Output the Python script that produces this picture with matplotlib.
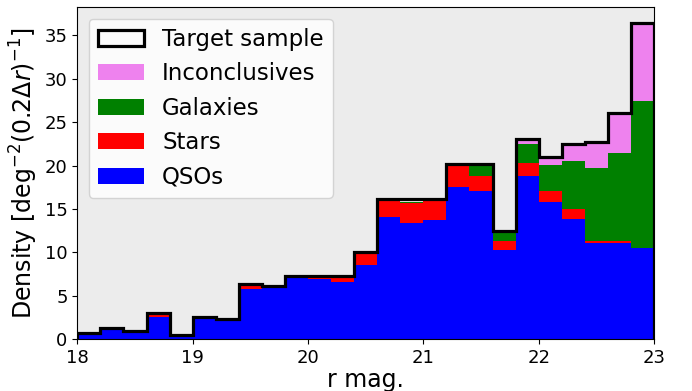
import numpy as np
import matplotlib
matplotlib.use("Agg")
import matplotlib.pyplot as plt

edges = np.round(np.arange(18.0, 23.0001, 0.2), 2)

qso = [0.65, 1.3, 0.95, 2.6, 0.42, 2.6, 2.3, 5.8, 5.95, 7.1, 6.9, 6.65, 8.55,
       14.1, 13.35, 13.7, 17.5, 17.1, 10.3, 18.8, 15.8, 13.9, 11.1, 11.1, 10.5]
stars = [0.05, 0.0, 0.0, 0.45, 0.0, 0.0, 0.0, 0.55, 0.1, 0.15, 0.35, 0.6, 1.45,
         1.95, 2.3, 2.2, 2.45, 1.7, 1.0, 1.45, 1.3, 1.05, 0.2, 0.2, 0.05]
galaxies = [0, 0, 0, 0, 0, 0, 0, 0, 0, 0, 0, 0, 0,
            0, 0.2, 0, 0, 1.2, 1.0, 2.2, 3.0, 5.55, 8.4, 10.1, 16.85]
inconclusives = [0, 0, 0, 0, 0, 0, 0, 0, 0, 0, 0, 0, 0,
                 0, 0, 0, 0, 0, 0, 0.45, 0.65, 1.7, 2.75, 4.5, 8.85]
total = [0.7, 1.35, 0.95, 3.05, 0.45, 2.6, 2.35, 6.4, 6.1, 7.3, 7.3, 7.3, 10.1,
         16.1, 16.1, 16.1, 20.15, 20.15, 12.45, 23.05, 21.0, 22.5, 22.7, 26.1, 36.4]

labels = ["QSOs", "Stars", "Galaxies", "Inconclusives"]
colors = ["blue", "red", "green", "violet"]
legend_order = ["Target sample", "Inconclusives", "Galaxies", "Stars", "QSOs"]

fig = plt.figure(figsize=(6.92, 3.91), dpi=100)
ax = fig.add_axes([0.1117, 0.1322, 0.9451 - 0.1117, 0.9813 - 0.1322])
ax.set_facecolor("#ececec")

centers = edges[:-1] + 0.1
ax.hist([centers] * 4, bins=edges,
        weights=[qso, stars, galaxies, inconclusives],
        stacked=True, histtype="stepfilled",
        color=colors, label=labels, linewidth=0)
ax.hist(centers, bins=edges, weights=total, histtype="step",
        color="black", linewidth=2.3, label="Target sample")

ax.set_xlim(18, 23)
ax.set_xticks([18, 19, 20, 21, 22, 23])
ax.set_yticks([0, 5, 10, 15, 20, 25, 30, 35])
ax.tick_params(labelsize=13)
ax.set_xlabel("r mag.", fontsize=17, labelpad=1)
ax.set_ylabel(r"Density [deg$^{-2}$(0.2$\Delta r$)$^{-1}$]", fontsize=17, labelpad=3)

handles, labs = ax.get_legend_handles_labels()
hmap = dict(zip(labs, handles))
ax.legend([hmap[l] for l in legend_order], legend_order,
          loc="upper left", fontsize=16.5, facecolor="white")

fig.savefig("out.png", dpi=100)
